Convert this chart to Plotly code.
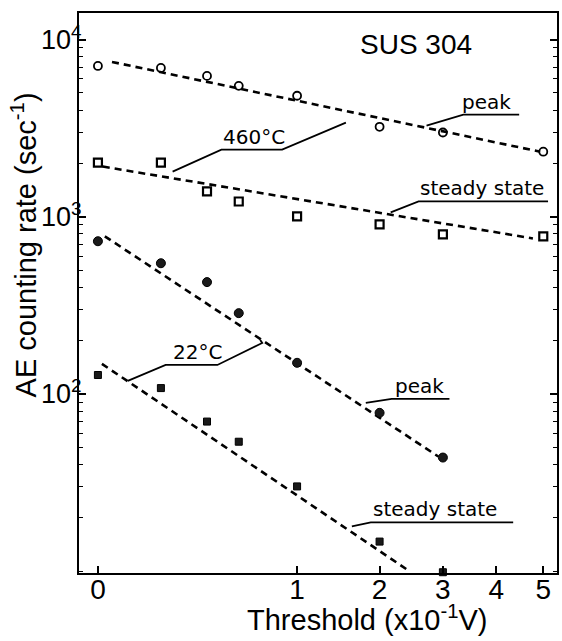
import numpy as np
import plotly.graph_objects as go

# Threshold in units of 1e-1 V; the x axis is drawn on a square-root scale
threshold = [0, 0.1, 0.3, 0.5, 1, 2, 3, 5]
peak_460 = [7100, 6920, 6240, 5480, 4820, 3220, 2990, 2330]
steady_460 = [2020, 2020, 1390, 1220, 1005, 906, 796, 776]

threshold_22 = [0, 0.1, 0.3, 0.5, 1, 2, 3]
peak_22 = [728, 547, 428, 286, 150, 78.3, 43.8]
steady_22 = [128, 108, 69.9, 53.8, 30.1, 14.7, 9.87]

# Trend lines (start/end threshold, start/end counting rate)
fit_peak_460_x = [0.005, 4.93]
fit_peak_460_y = [7480, 2330]
fit_steady_460_x = [0.0006, 4.77]
fit_steady_460_y = [1920, 755]
fit_peak_22_x = [0.0012, 2.92]
fit_peak_22_y = [776, 44.4]
fit_steady_22_x = [0.0004, 2.43]
fit_steady_22_y = [148, 10.1]

x_tick_values = [0, 1, 2, 3, 4, 5]
y_tick_values = [100, 1000, 10000]
y_tick_text = ["10<sup>2</sup>", "10<sup>3</sup>", "10<sup>4</sup>"]

# Callout labels: text, left edge (sqrt-threshold), underline level (log10 rate)
labels = [
    ("peak", 1.825, 3.576),
    ("460°C", 0.625, 3.379),
    ("steady state", 1.61, 3.087),
    ("22°C", 0.37, 2.164),
    ("peak", 1.485, 1.973),
    ("steady state", 1.375, 1.276),
]
# Leader + underline polylines: sqrt-threshold points, log10 rate points
leaders = [
    ([1.65, 1.835, 2.115], [3.514, 3.576, 3.576]),
    ([0.375, 0.62, 0.925, 1.245], [3.255, 3.379, 3.379, 3.531]),
    ([1.47, 1.61, 2.26], [3.025, 3.087, 3.087]),
    ([0.15, 0.34, 0.60, 0.825, 0.815], [2.074, 2.164, 2.164, 2.288, 2.305]),
    ([1.345, 1.475, 1.765], [1.950, 1.973, 1.973]),
    ([1.275, 1.37, 2.085], [1.253, 1.276, 1.276]),
]


def sx(t):
    return np.sqrt(np.asarray(t, dtype=float))


fig = go.Figure()

dash_style = dict(color="black", width=2.6, dash="7px,5px")
for fx, fy in [(fit_peak_460_x, fit_peak_460_y),
               (fit_steady_460_x, fit_steady_460_y),
               (fit_peak_22_x, fit_peak_22_y),
               (fit_steady_22_x, fit_steady_22_y)]:
    fig.add_trace(go.Scatter(x=sx(fx), y=fy, mode="lines", line=dash_style,
                             hoverinfo="skip", showlegend=False))

for lx, ly in leaders:
    fig.add_trace(go.Scatter(x=lx, y=10 ** np.asarray(ly), mode="lines",
                             line=dict(color="black", width=1.8),
                             hoverinfo="skip", showlegend=False))

fig.add_trace(go.Scatter(
    x=sx(threshold), y=peak_460, mode="markers", name="460°C peak",
    marker=dict(symbol="circle-open", size=8, color="black",
                line=dict(width=1.8, color="black")),
    cliponaxis=False, showlegend=False))
fig.add_trace(go.Scatter(
    x=sx(threshold), y=steady_460, mode="markers", name="460°C steady state",
    marker=dict(symbol="square-open", size=8, color="black",
                line=dict(width=2.2, color="black")),
    cliponaxis=False, showlegend=False))
fig.add_trace(go.Scatter(
    x=sx(threshold_22), y=peak_22, mode="markers", name="22°C peak",
    marker=dict(symbol="circle", size=9, color="#1a1a1a",
                line=dict(width=1, color="black")),
    cliponaxis=False, showlegend=False))
fig.add_trace(go.Scatter(
    x=sx(threshold_22), y=steady_22, mode="markers", name="22°C steady state",
    marker=dict(symbol="square", size=7, color="#1a1a1a",
                line=dict(width=1, color="black")),
    cliponaxis=False, showlegend=False))

label_font = dict(family="DejaVu Sans", size=20, color="black")
for text, lx, ly in labels:
    fig.add_annotation(x=lx, y=ly, xref="x", yref="y", text=text,
                       showarrow=False, xanchor="left", yanchor="bottom",
                       font=label_font, borderpad=0)

fig.add_annotation(x=1.595, y=3.970, xref="x", yref="y", text="SUS 304",
                   showarrow=False, xanchor="center", yanchor="middle",
                   font=dict(family="Liberation Sans", size=28, color="black"))

# Axis titles
fig.add_annotation(x=0.602, y=-0.08, xref="paper", yref="paper",
                   text="Threshold (x10<sup>-1</sup>V)", showarrow=False,
                   xanchor="center", yanchor="middle",
                   font=dict(family="Liberation Sans", size=29, color="black"))
fig.add_annotation(x=-0.115, y=0.585, xref="paper", yref="paper",
                   text="AE counting rate (sec<sup>-1</sup>)", showarrow=False,
                   textangle=-90, xanchor="center", yanchor="middle",
                   font=dict(family="Liberation Sans", size=29, color="black"))

fig.update_xaxes(
    range=[-0.095, 2.305],
    tickvals=sx(x_tick_values), ticktext=[str(v) for v in x_tick_values],
    ticks="inside", ticklen=7, tickwidth=1.5, tickcolor="black",
    ticklabelstandoff=-10,
    showline=True, linewidth=2.2, linecolor="black", mirror=True,
    showgrid=False, zeroline=False,
    tickfont=dict(family="Liberation Sans", size=28, color="black"),
)
fig.update_yaxes(
    type="log", range=[0.99, 4.15],
    tickvals=y_tick_values, ticktext=y_tick_text,
    ticks="inside", ticklen=7, tickwidth=1.5, tickcolor="black",
    ticklabelstandoff=-10,
    minor=dict(ticks="inside", ticklen=4, tickwidth=1.2, tickcolor="black",
               dtick="D1", showgrid=False),
    showline=True, linewidth=2.2, linecolor="black", mirror="ticks",
    showgrid=False, zeroline=False,
    tickfont=dict(family="Liberation Sans", size=27, color="black"),
)

fig.update_layout(
    width=562, height=641,
    margin=dict(l=79, r=3, t=13, b=68),
    paper_bgcolor="white", plot_bgcolor="white",
    showlegend=False,
)

fig.write_html("out.html")
